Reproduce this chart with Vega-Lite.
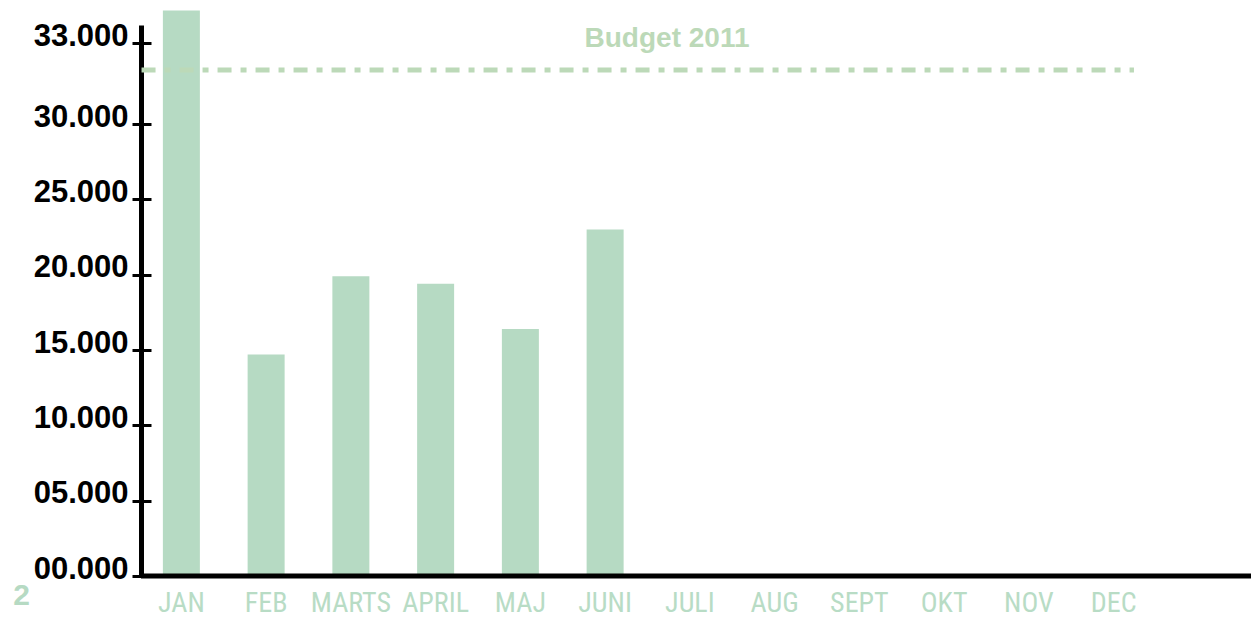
{
  "$schema": "https://vega.github.io/schema/vega-lite/v6.json",
  "width": 1110,
  "height": 576,
  "autosize": "none",
  "padding": {"left": 141, "top": 0, "right": 0, "bottom": 42},
  "background": "white",
  "config": {"view": {"stroke": null}, "font": "Liberation Sans"},
  "datasets": {
    "sales": [
      {"month": "JAN", "value": 34200},
      {"month": "FEB", "value": 14700},
      {"month": "MARTS", "value": 19900},
      {"month": "APRIL", "value": 19400},
      {"month": "MAJ", "value": 16400},
      {"month": "JUNI", "value": 23000}
    ],
    "budget": [
      {"label": "Budget 2011", "budget": 32000}
    ]
  },
  "resolve": {"axis": {"y": "independent"}},
  "layer": [
    {
      "data": {"name": "sales"},
      "mark": {"type": "bar", "width": 37, "color": "#b6dac3"},
      "encoding": {
        "x": {
          "field": "month",
          "type": "nominal",
          "sort": ["JAN", "FEB", "MARTS", "APRIL", "MAJ", "JUNI", "JULI", "AUG", "SEPT", "OKT", "NOV", "DEC"],
          "scale": {
            "domain": ["JAN", "FEB", "MARTS", "APRIL", "MAJ", "JUNI", "JULI", "AUG", "SEPT", "OKT", "NOV", "DEC"],
            "range": [-2, 1015],
            "paddingInner": 0,
            "paddingOuter": 0
          },
          "axis": {
            "title": null,
            "labelAngle": 0,
            "labelFont": "Liberation Sans Narrow, Roboto Condensed, DejaVu Sans Condensed, sans-serif",
            "labelFontSize": 28,
            "labelColor": "#b8dcc5",
            "labelPadding": 13,
            "labelBaseline": "top",
            "ticks": false,
            "domain": false,
            "grid": false
          }
        },
        "y": {
          "field": "value",
          "type": "quantitative",
          "scale": {"domain": [0, 30000, 33000, 33667], "range": [576, 124, 43, 25], "nice": false, "zero": false},
          "axis": {
            "orient": "left",
            "values": [0, 5000, 10000, 15000, 20000, 25000, 30000, 33000],
            "labelExpr": "(datum.value < 10000 ? '0' : '') + format(datum.value / 1000, 'd') + '.000'",
            "labelFont": "Liberation Sans",
            "labelFontWeight": "bold",
            "labelFontSize": 31,
            "labelColor": "#000000",
            "labelBaseline": "alphabetic",
            "labelOffset": 2,
            "labelPadding": 4,
            "labelFlush": false,
            "labelOverlap": false,
            "tickSize": 9,
            "tickWidth": 3,
            "tickColor": "#000000",
            "domainColor": "#000000",
            "domainWidth": 5,
            "grid": false,
            "title": "2",
            "titleAngle": 0,
            "titleX": -120,
            "titleY": 604,
            "titleAlign": "center",
            "titleBaseline": "alphabetic",
            "titleColor": "#b6dac3",
            "titleFontSize": 30,
            "titleFontWeight": "bold",
            "titleFont": "Liberation Sans"
          }
        }
      }
    },
    {
      "data": {"name": "budget"},
      "mark": {"type": "rule", "strokeWidth": 5, "strokeDash": [14, 9, 6, 9], "color": "#bcd9b8"},
      "encoding": {
        "x": {"datum": "JAN", "bandPosition": 0.03},
        "x2": {"datum": "DEC", "bandPosition": 0.74},
        "y": {
          "field": "budget",
          "type": "quantitative",
          "axis": {
            "orient": "left",
            "values": [0, 5000, 10000, 15000, 20000, 25000, 30000, 33000],
            "labels": false,
            "domain": false,
            "tickSize": -10,
            "tickWidth": 3,
            "tickColor": "#000000",
            "grid": false,
            "title": null
          }
        }
      }
    },
    {
      "data": {"name": "budget"},
      "mark": {"type": "rule", "strokeWidth": 5, "color": "#000000"},
      "encoding": {"y": {"datum": 0}}
    },
    {
      "data": {"name": "budget"},
      "mark": {"type": "text", "font": "Liberation Sans", "fontWeight": "bold", "fontSize": 28, "color": "#bcd9b8", "baseline": "alphabetic", "align": "center", "dy": -23},
      "encoding": {
        "x": {"datum": "JULI", "bandPosition": 0.23},
        "y": {"field": "budget", "type": "quantitative"},
        "text": {"field": "label"}
      }
    }
  ]
}
